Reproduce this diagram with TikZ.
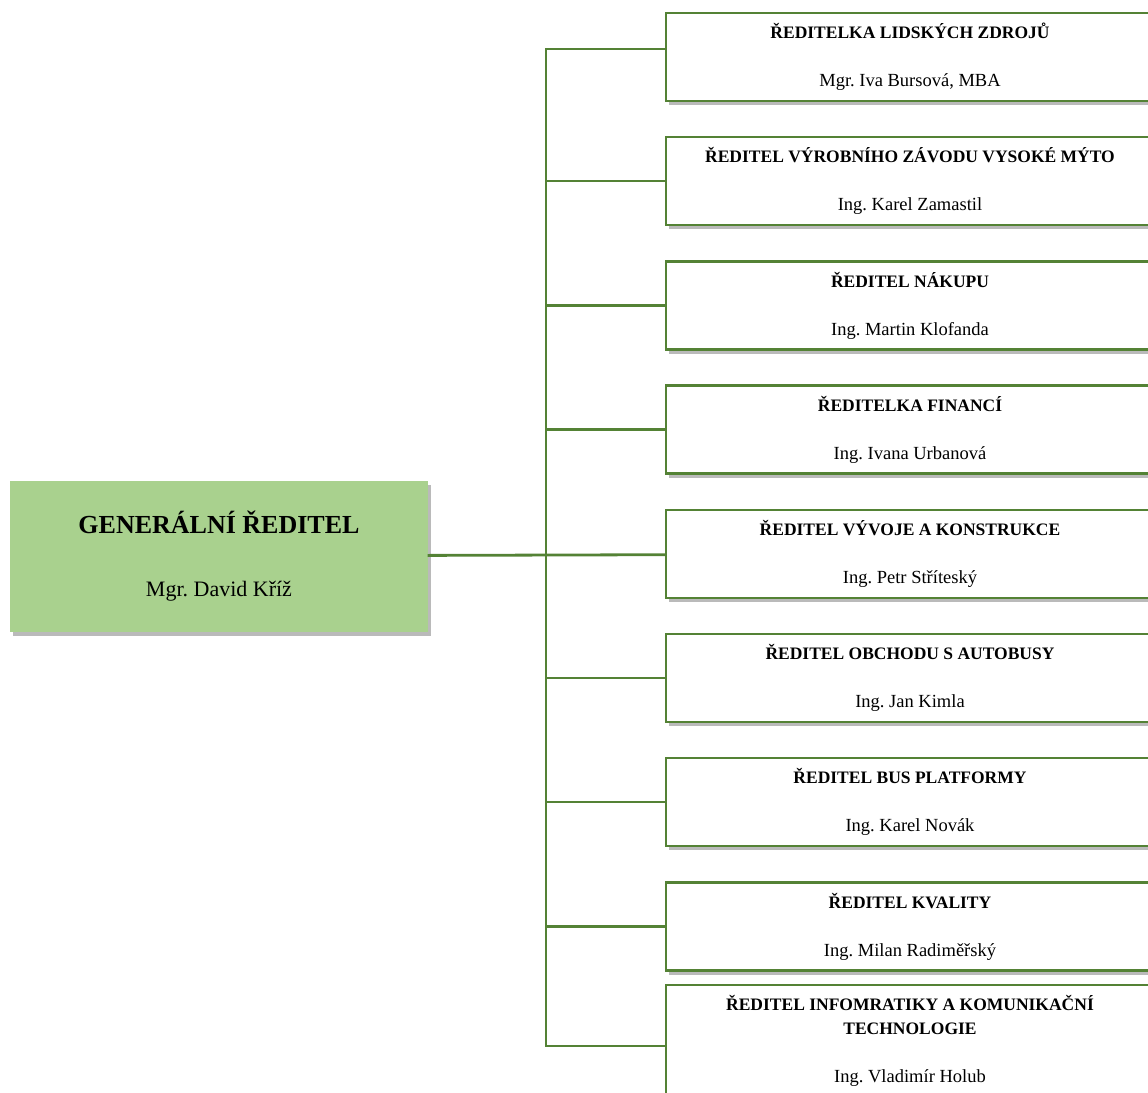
\documentclass[tikz,border=0pt]{standalone}
\usepackage{fontspec}
\setmainfont{Liberation Serif}
\usepackage{tikz}
\usetikzlibrary{shadows}
\frenchspacing
\definecolor{orggreen}{RGB}{84,130,53}
\definecolor{bossgreen}{RGB}{169,209,142}
\newcommand{\posttitle}[1]{{\fontsize{17.5}{21}\bfseries #1}}
\newcommand{\postname}[1]{{\fontsize{18.5}{22}\selectfont #1}}

\begin{document}
\begin{tikzpicture}[x=1pt,y=-1pt]
		\useasboundingbox (0,0) rectangle (1148,1092);

		\begin{scope}[every node/.style={rectangle,inner sep=0pt,align=center,
		              font=\fontsize{18.5}{22}\selectfont,
		              minimum width=488pt,minimum height=88pt,
		              draw=orggreen,line width=2.2pt,fill=white,
		              drop shadow={shadow xshift=3pt,shadow yshift=-4pt,fill=black!45,opacity=.6}}]
			\node (0) at (219,556) [minimum width=418pt,minimum height=151pt,draw=none,fill=bossgreen,
			                        font=\fontsize{22}{26}\selectfont]
			      {{\fontsize{26}{30}\bfseries GENERÁLNÍ ŘEDITEL}\\[37pt]Mgr. David Kříž};
			\node (1) at (910,57)    {\posttitle{ŘEDITELKA LIDSKÝCH ZDROJŮ}\\[26pt]\postname{Mgr. Iva Bursová, MBA}};
			\node (2) at (910,181)   {\posttitle{ŘEDITEL VÝROBNÍHO ZÁVODU VYSOKÉ MÝTO}\\[26pt]\postname{Ing. Karel Zamastil}};
			\node (3) at (910,305.5) {\posttitle{ŘEDITEL NÁKUPU}\\[26pt]\postname{Ing. Martin Klofanda}};
			\node (4) at (910,429.5) {\posttitle{ŘEDITELKA FINANCÍ}\\[26pt]\postname{Ing. Ivana Urbanová}};
			\node (5) at (910,554)   {\posttitle{ŘEDITEL VÝVOJE A KONSTRUKCE}\\[26pt]\postname{Ing. Petr Stříteský}};
			\node (6) at (910,678)   {\posttitle{ŘEDITEL OBCHODU S AUTOBUSY}\\[26pt]\postname{Ing. Jan Kimla}};
			\node (7) at (910,802)   {\posttitle{ŘEDITEL BUS PLATFORMY}\\[26pt]\postname{Ing. Karel Novák}};
			\node (8) at (910,926.5) {\posttitle{ŘEDITEL KVALITY}\\[26pt]\postname{Ing. Milan Radiměřský}};
			\node (9) at (910,1041) [minimum height=112pt]
			      {\posttitle{ŘEDITEL INFOMRATIKY A KOMUNIKAČNÍ}\\[2pt]\posttitle{TECHNOLOGIE}\\[26pt]\postname{Ing. Vladimír Holub}};
		\end{scope}

		\coordinate (top) at (546,49);
		\coordinate (bot) at (546,1046);

		\begin{scope}[every edge/.style={draw=orggreen,line width=2.8pt,line cap=rect}]
			\path (top) edge (bot);
			\path (0) edge (5);
			\path (top) edge (top -| 1.west);
			\path (top |- 2.west) edge (2.west);
			\path (top |- 3.west) edge (3.west);
			\path (top |- 4.west) edge (4.west);
			\path (top |- 6.west) edge (6.west);
			\path (top |- 7.west) edge (7.west);
			\path (top |- 8.west) edge (8.west);
			\path (bot) edge (bot -| 9.west);
		\end{scope}
		\end{tikzpicture}
\end{document}
